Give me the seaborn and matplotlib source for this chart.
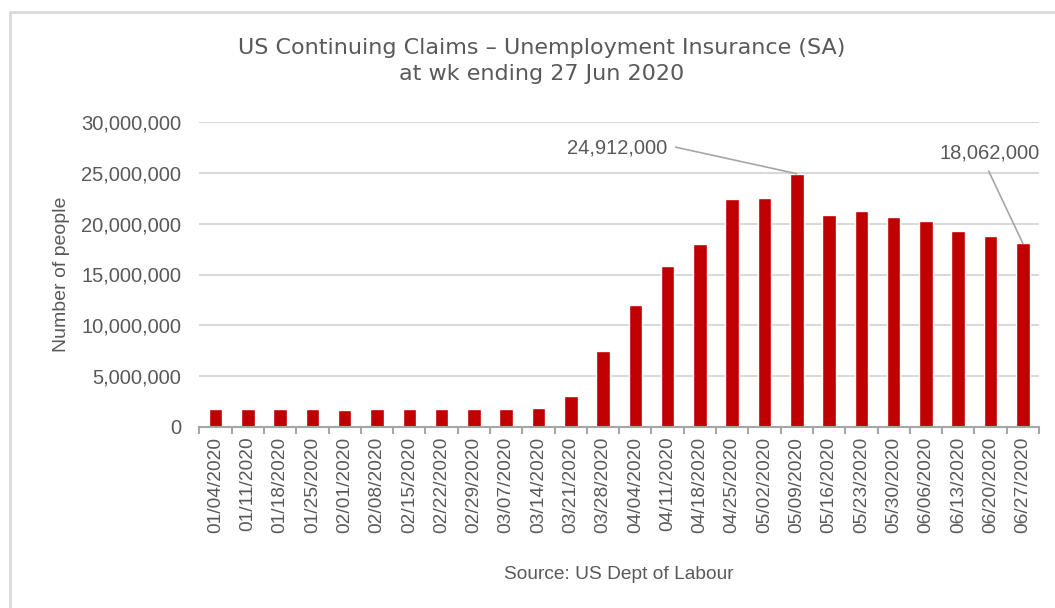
import matplotlib
matplotlib.use("Agg")
import matplotlib.pyplot as plt
import seaborn as sns
import pandas as pd
from matplotlib.ticker import FuncFormatter, FixedLocator
from matplotlib.lines import Line2D

weeks = ["01/04/2020", "01/11/2020", "01/18/2020", "01/25/2020", "02/01/2020",
         "02/08/2020", "02/15/2020", "02/22/2020", "02/29/2020", "03/07/2020",
         "03/14/2020", "03/21/2020", "03/28/2020", "04/04/2020", "04/11/2020",
         "04/18/2020", "04/25/2020", "05/02/2020", "05/09/2020", "05/16/2020",
         "05/23/2020", "05/30/2020", "06/06/2020", "06/13/2020", "06/20/2020",
         "06/27/2020"]
claims = [1800000, 1770000, 1740000, 1800000, 1700000,
          1770000, 1740000, 1770000, 1740000, 1740000,
          1830000, 3060000, 7450000, 11980000, 15820000,
          18010000, 22380000, 22550000, 24912000, 20840000,
          21270000, 20610000, 20290000, 19230000, 18760000,
          18062000]
yticks = [0, 5000000, 10000000, 15000000, 20000000, 25000000, 30000000]
title = "US Continuing Claims \u2013 Unemployment Insurance (SA)\nat wk ending 27 Jun 2020"
ylabel = "Number of people"
source = "Source: US Dept of Labour"
annotated = ["05/09/2020", "06/27/2020"]

df = pd.DataFrame({"week": weeks, "claims": claims})

sns.set_theme(style="white")
plt.rcParams["font.family"] = ["Liberation Sans", "DejaVu Sans"]
txt = "#595959"

fig = plt.figure(figsize=(10.55, 6.08), dpi=100)
ax = fig.add_axes([199.4 / 1055, 1 - 427 / 608, (1039 - 199.4) / 1055, (427 - 122) / 608])

sns.barplot(data=df, x="week", y="claims", color="#c00000", saturation=1,
            width=0.42, ax=ax, zorder=3)

ax.set_xlim(-0.5, len(weeks) - 0.5)
ax.set_ylim(0, 30000000)
ax.set_yticks(yticks)
ax.yaxis.set_major_formatter(FuncFormatter(lambda v, p: f"{int(v):,}"))
ax.grid(axis="y", color="#d9d9d9", linewidth=1.5, zorder=0)
ax.grid(axis="x", visible=False)

for s in ["top", "right", "left"]:
    ax.spines[s].set_visible(False)
ax.spines["bottom"].set_color("#a6a6a6")
ax.spines["bottom"].set_linewidth(1.5)
ax.spines["bottom"].set_zorder(4)

ax.tick_params(axis="x", which="major", length=0, pad=7, labelsize=13.8,
               labelcolor=txt, labelrotation=90)
ax.xaxis.set_minor_locator(FixedLocator([i - 0.5 for i in range(len(weeks) + 1)]))
ax.tick_params(axis="x", which="minor", length=5, width=1.5, color="#a6a6a6",
               direction="out", bottom=True)
ax.tick_params(axis="y", length=0, pad=13, labelsize=14.5, labelcolor=txt)

ax.set_xlabel(source, fontsize=13.8, color=txt, labelpad=24)
ax.set_ylabel(ylabel, fontsize=14, color=txt, labelpad=8)
fig.text(542 / 1055, 1 - 61 / 608, title, ha="center", va="center",
         fontsize=16, color=txt, linespacing=1.33, family=["DejaVu Sans"])

lc = "#a6a6a6"
i0 = weeks.index(annotated[0])
ax.annotate(f"{claims[i0]:,}", xy=(i0, claims[i0]), xytext=(-93.6, 18.4),
            textcoords="offset points", ha="right", va="center",
            fontsize=14.5, color=txt,
            arrowprops=dict(arrowstyle="-", color=lc, lw=1.2, relpos=(1, 0.55),
                            shrinkA=4, shrinkB=0,
                            connectionstyle="arc,angleA=0,angleB=165,armA=9,armB=0,rad=0"))
i1 = weeks.index(annotated[1])
ax.annotate(f"{claims[i1]:,}", xy=(i1, claims[i1]), xytext=(-23.8, 64.8),
            textcoords="offset points", ha="center", va="center",
            fontsize=14.5, color=txt,
            arrowprops=dict(arrowstyle="-", color=lc, lw=1.2, relpos=(0.45, 0),
                            shrinkA=4, shrinkB=0))

fig.add_artist(Line2D([10 / 1055, 10 / 1055, 1.0], [0.0, 1 - 12 / 608, 1 - 12 / 608],
                      transform=fig.transFigure, color="#d9d9d9", lw=2))

fig.savefig("out.png", dpi=100)
